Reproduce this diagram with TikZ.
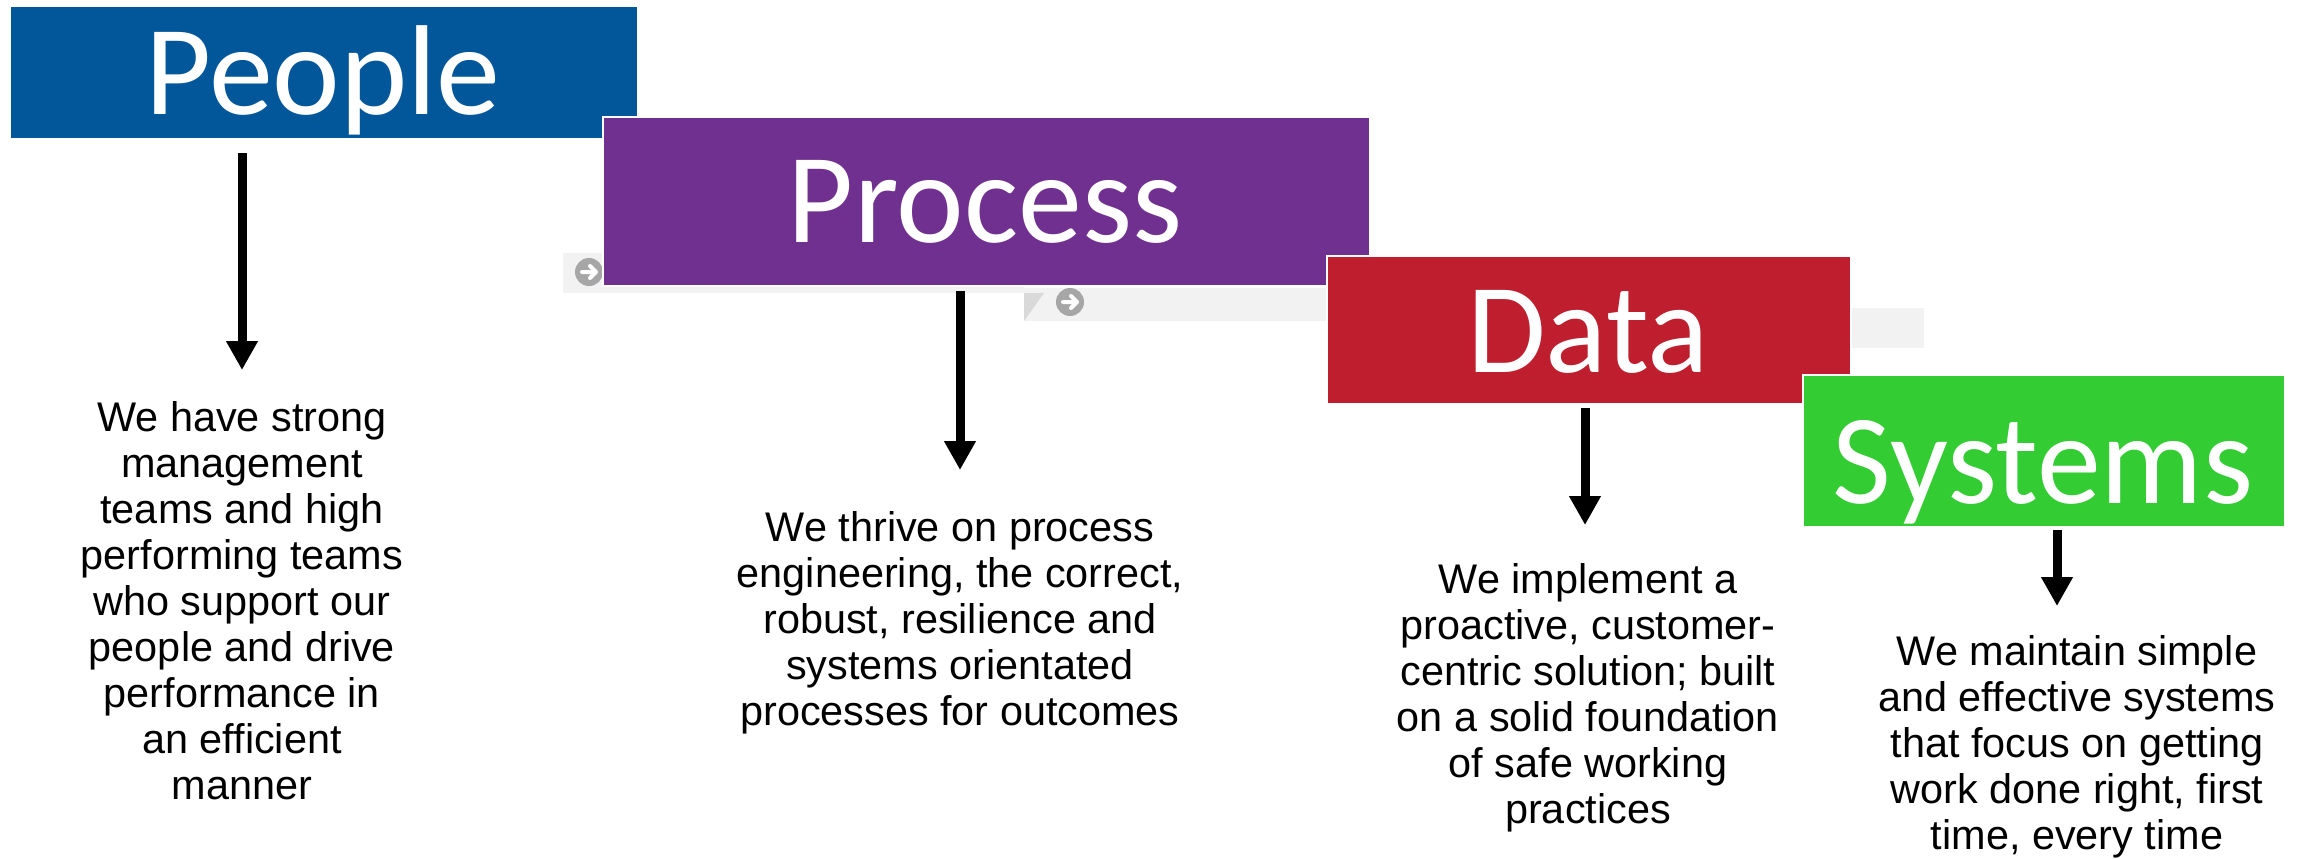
\documentclass[tikz,border=0pt]{standalone}
\usepackage{fontspec}
\setmainfont{Liberation Sans}
\newfontfamily\titlefont{Carlito}
\usetikzlibrary{arrows.meta}
\definecolor{pblue}{RGB}{2,86,154}
\definecolor{ppurple}{RGB}{112,48,144}
\definecolor{pred}{RGB}{190,30,45}
\definecolor{pgreen}{RGB}{51,204,51}
\definecolor{barfill}{RGB}{242,242,242}
\definecolor{folddark}{RGB}{217,217,217}
\definecolor{icongray}{RGB}{166,166,166}
\begin{document}
\begin{tikzpicture}[x=0.5pt,y=-0.5pt,
  box/.style={draw=white, line width=1pt, inner sep=0pt, anchor=north west},
  title/.style={font=\titlefont\fontsize{64pt}{64pt}\selectfont, text=white, inner sep=0pt, anchor=base},
  body/.style={font=\fontsize{20.7pt}{23pt}\selectfont, align=center, inner sep=0pt, anchor=north},
  arr/.style={line width=4.5pt, -{Triangle[width=15pt,length=14.5pt]}},
  bar/.style={fill=barfill, draw=none},
  icon/.style={circle, fill=icongray, minimum size=14pt, inner sep=0pt},
  iconarrow/.style={white, line width=2pt, line cap=round, line join=round}
]
\useasboundingbox (0,0) rectangle (2301,858);
\fill[white] (0,0) rectangle (2301,858);

% background bars
\path[bar] (563,253) rectangle (1024,293);
\path[bar] (1024,288) rectangle (1330,321);
\path[bar] (1840,308) rectangle (1924,348);
\fill[folddark] (1024,293) -- (1044,293) -- (1024,321) -- cycle;

% icon 1 (partly under Process)
\node[icon] (ic1) at (589,272) {};
\draw[iconarrow] ([xshift=-3.5pt]ic1.center) -- ([xshift=3.5pt]ic1.center)
  ([xshift=0.5pt,yshift=3pt]ic1.center) -- ([xshift=3.5pt]ic1.center) -- ([xshift=0.5pt,yshift=-3pt]ic1.center);

% boxes
\node[box, fill=pblue, minimum width=314pt, minimum height=66.5pt] (people) at (9,5) {};
\node[title] (peopleT) at (323,114) {People};

\node[box, fill=ppurple, minimum width=383.5pt, minimum height=84.5pt] (process) at (602,116) {};
\node[title] (processT) at (985,242) {Process};

% icon 2
\node[icon] (ic2) at (1070,302) {};
\draw[iconarrow] ([xshift=-3.5pt]ic2.center) -- ([xshift=3.5pt]ic2.center)
  ([xshift=0.5pt,yshift=3pt]ic2.center) -- ([xshift=3.5pt]ic2.center) -- ([xshift=0.5pt,yshift=-3pt]ic2.center);

\node[box, fill=pred, minimum width=262pt, minimum height=74pt] (data) at (1326,255) {};
\node[title] (dataT) at (1588,372) {Data};

\node[box, fill=pgreen, minimum width=241pt, minimum height=76pt] (systems) at (1802,374) {};
\node[title] (systemsT) at (2043,503) {Systems};

% texts
\node[body] (ptxt) at (242,401) {We have strong\\management\\teams and high\\performing teams\\who support our\\people and drive\\performance in\\an efficient\\manner};
\node[body] (prtxt) at (960,511) {We thrive on process\\engineering, the correct,\\robust, resilience and\\systems orientated\\processes for outcomes};
\node[body] (dtxt) at (1588,563) {We implement a\\proactive, customer-\\centric solution; built\\on a solid foundation\\of safe working\\practices};
\node[body] (stxt) at (2077,635) {We maintain simple\\and effective systems\\that focus on getting\\work done right, first\\time, every time};

% arrows
\coordinate (pa) at (242,370);
\coordinate (pra) at (960,470);
\coordinate (da) at (1585,525);
\coordinate (sa) at (2057,606);
\draw[arr] ([yshift=-6.5pt]people.south -| pa) -- (pa);
\draw[arr] ([yshift=-2pt]process.south -| pra) -- (pra);
\draw[arr] ([yshift=-1.5pt]data.south -| da) -- (da);
\draw[arr] ([yshift=-1pt]systems.south -| sa) -- (sa);
\end{tikzpicture}
\end{document}
